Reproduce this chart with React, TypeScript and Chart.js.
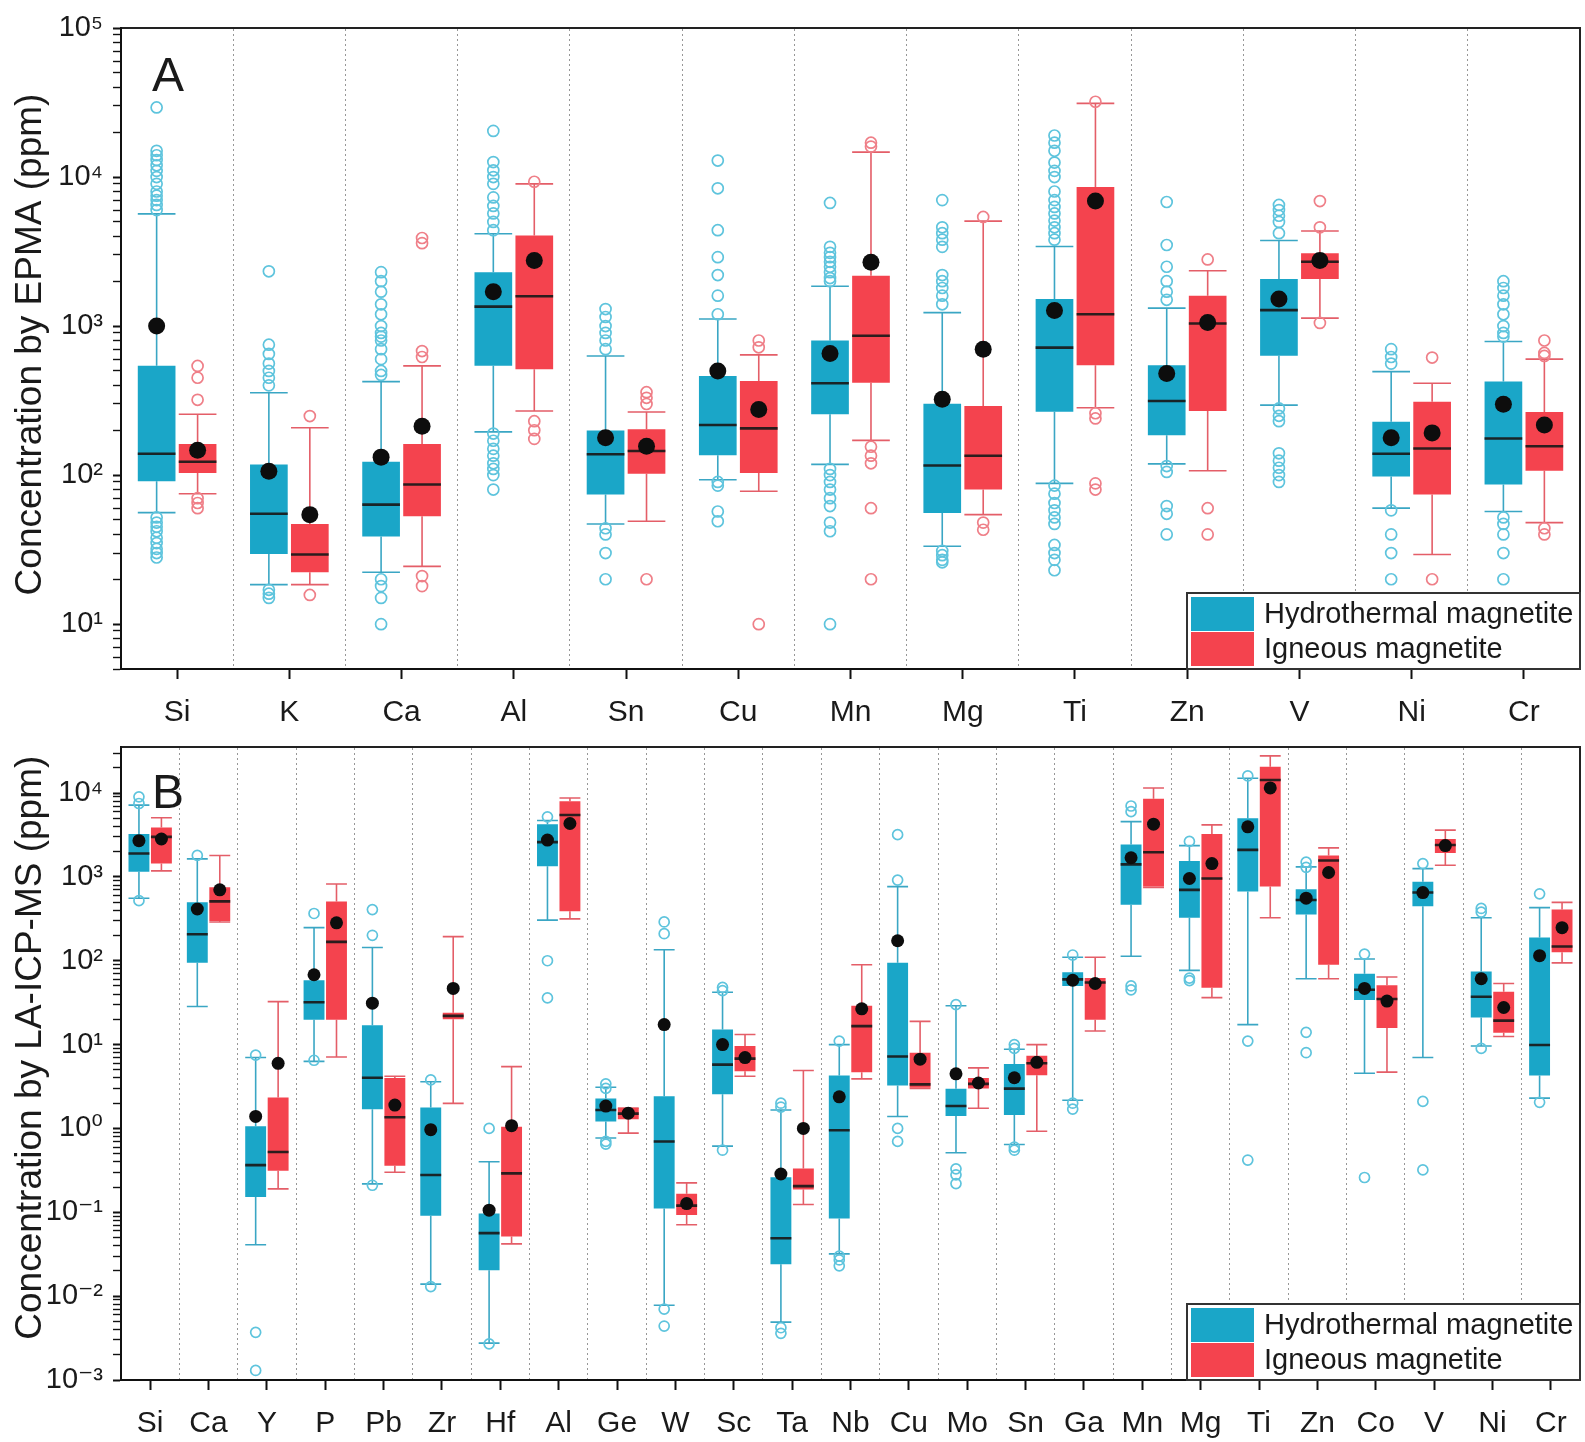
import React, { useEffect, useRef } from "react";
import { Chart, registerables } from "chart.js";

Chart.register(...registerables);

const FONT = "'Liberation Sans', Arial, 'DejaVu Sans', sans-serif";
const TEXT = "#1a1a1a";
const HYD_FILL = "#1aa6c8";
const IGN_FILL = "#f4434e";
const HYD_LINE = "#3aa6c4";
const IGN_LINE = "#e45e68";
const HYD_OUT = "#5ec4dd";
const IGN_OUT = "#ef7f88";

// ---------------- Panel A: EPMA ----------------
const EPMA_ELEMENTS = ["Si", "K", "Ca", "Al", "Sn", "Cu", "Mn", "Mg", "Ti", "Zn", "V", "Ni", "Cr"];
// [lower whisker, Q1, median, Q3, upper whisker]
const EPMA_HYDRO_BOX = [
  [56, 91, 139, 541, 5660],
  [18.4, 29.5, 55, 118, 357],
  [22.3, 38.8, 63.4, 123, 424],
  [195, 541, 1350, 2300, 4160],
  [47, 74, 138, 199, 630],
  [93, 136, 217, 463, 1115],
  [118, 256, 413, 800, 1850],
  [33.3, 55.7, 116, 301, 1230],
  [88, 266, 717, 1520, 3420],
  [119, 185, 314, 546, 1320],
  [295, 631, 1280, 2070, 3750],
  [60, 98, 139, 228, 495],
  [57, 86.5, 176, 424, 787],
];
const EPMA_HYDRO_MEAN = [1000, 106, 132, 1700, 178, 500, 654, 323, 1270, 480, 1520, 178, 299];
const EPMA_HYDRO_OUTLIERS = [
  [29300, 15000, 14000, 13000, 12000, 11000, 10000, 9000, 8000, 7500, 7000, 6500, 6000, 52, 48, 45, 42, 38, 35, 32, 30, 28],
  [2330, 750, 650, 560, 500, 450, 400, 17, 16, 15],
  [2300, 2000, 1700, 1400, 1200, 1000, 900, 850, 800, 700, 600, 500, 470, 20, 18, 15, 10],
  [20400, 12600, 11100, 10000, 9000, 7300, 6400, 5700, 5000, 4400, 190, 170, 150, 135, 120, 110, 100, 80],
  [1300, 1150, 1000, 900, 800, 700, 44, 40, 30, 20],
  [12900, 8400, 4400, 2900, 2200, 1600, 1200, 90, 85, 57, 49],
  [6700, 3400, 3100, 2900, 2700, 2500, 2300, 2100, 2000, 110, 100, 90, 80, 70, 62, 48, 42, 10],
  [7000, 4600, 4200, 3800, 3400, 2200, 2000, 1800, 1600, 1400, 31, 29, 27, 26],
  [19000, 17000, 15000, 12500, 11000, 10000, 8000, 7000, 6300, 5700, 5100, 4600, 4200, 3800, 85, 75, 65, 58, 52, 47, 34, 30, 27, 23],
  [6800, 3500, 2500, 2000, 1700, 1500, 115, 105, 62, 55, 40],
  [6500, 6000, 5500, 5000, 4200, 280, 250, 230, 140, 125, 112, 100, 90],
  [700, 620, 560, 58, 40, 30, 20],
  [2000, 1800, 1600, 1400, 1200, 1000, 900, 850, 52, 47, 40, 30, 20],
];
const EPMA_IGNEOUS_BOX = [
  [75, 103.5, 123, 162, 256],
  [18.4, 22.3, 29.3, 47, 208],
  [24.4, 53, 86.5, 162, 541],
  [269, 513, 1585, 4050, 9000],
  [49, 102, 145, 203, 265],
  [78, 103.5, 206, 428, 641],
  [171, 417, 861, 2180, 14700],
  [54.3, 80, 135, 291, 5060],
  [283, 546, 1200, 8570, 31200],
  [107, 269, 1040, 1600, 2350],
  [1130, 2070, 2700, 3080, 4340],
  [29.3, 74, 151, 311, 413],
  [48, 107, 156, 265, 600],
];
const EPMA_IGNEOUS_MEAN = [147, 54.3, 213, 2750, 156, 276, 2680, 700, 6900, 1056, 2750, 192, 217];
const EPMA_IGNEOUS_OUTLIERS = [
  [540, 450, 320, 70, 65, 60],
  [249, 15.7],
  [3900, 3600, 680, 620, 21, 18],
  [9300, 230, 200, 175],
  [360, 330, 300, 20],
  [800, 720, 10],
  [17000, 16000, 155, 135, 120, 60, 20],
  [5400, 48, 43],
  [32000, 260, 240, 88, 80],
  [2800, 60, 40],
  [6900, 4600, 1050],
  [615, 20],
  [800, 660, 630, 44, 40],
];

// ---------------- Panel B: LA-ICP-MS ----------------
const LA_ELEMENTS = ["Si", "Ca", "Y", "P", "Pb", "Zr", "Hf", "Al", "Ge", "W", "Sc", "Ta", "Nb", "Cu", "Mo", "Sn", "Ga", "Mn", "Mg", "Ti", "Zn", "Co", "V", "Ni", "Cr"];
const LA_HYDRO_BOX = [
  [557, 1150, 1900, 3240, 7170],
  [28.4, 94.4, 207, 497, 1640],
  [0.041, 0.152, 0.365, 1.06, 7.0],
  [6.3, 19.8, 32, 58.5, 248],
  [0.218, 1.69, 4.02, 17, 144],
  [0.0139, 0.091, 0.278, 1.78, 3.6],
  [0.00275, 0.0204, 0.0564, 0.097, 0.4],
  [305, 1340, 2600, 4250, 4700],
  [0.77, 1.21, 1.66, 2.28, 3.1],
  [0.0078, 0.111, 0.698, 2.42, 135],
  [0.615, 2.56, 5.76, 15.1, 42],
  [0.0049, 0.024, 0.049, 0.261, 1.66],
  [0.0319, 0.0845, 0.95, 4.27, 10],
  [1.39, 3.26, 7.2, 94.4, 766],
  [0.514, 1.41, 1.85, 2.98, 29],
  [0.643, 1.45, 2.98, 5.87, 8.8],
  [2.17, 50, 60, 73, 110],
  [113, 466, 1410, 2430, 4560],
  [76.7, 325, 700, 1546, 2360],
  [17.3, 668, 2100, 4990, 15000],
  [61, 356, 530, 711, 1315],
  [4.56, 34, 45, 70, 105],
  [7.0, 445, 650, 875, 1255],
  [9.6, 21.1, 37.2, 74.6, 325],
  [2.3, 4.27, 9.9, 189, 430],
];
const LA_HYDRO_MEAN = [2700, 414, 1.39, 68, 31.2, 0.966, 0.106, 2750, 1.85, 17.3, 10, 0.286, 2.38, 173, 4.48, 4.02, 58.5, 1690, 957, 3950, 557, 46.8, 650, 61, 115];
const LA_HYDRO_OUTLIERS = [
  [9000, 7500, 520],
  [1800],
  [7.5, 0.0037, 0.0013],
  [366, 6.5],
  [407, 201, 0.21],
  [3.8, 0.013],
  [1.0, 0.0027],
  [5200, 100, 36],
  [3.4, 3.0, 0.7, 0.65],
  [290, 210, 0.007, 0.0044],
  [48, 44, 0.55],
  [2.0, 1.8, 0.0042, 0.0036],
  [11, 0.03, 0.027, 0.023],
  [3190, 916, 1.0, 0.7],
  [30, 0.33, 0.28, 0.22],
  [10, 9, 0.6, 0.55],
  [117, 2.0, 1.7],
  [7000, 6000, 50, 45],
  [2650, 62, 58],
  [16000, 11, 0.42],
  [1500, 1300, 14, 8],
  [120, 0.26],
  [1440, 2.1, 0.32],
  [420, 380, 9],
  [628, 2.05],
];
const LA_IGNEOUS_BOX = [
  [1180, 1440, 3000, 3880, 5080],
  [290, 297, 510, 750, 1800],
  [0.19, 0.313, 0.524, 2.34, 32.5],
  [7.1, 19.8, 168, 510, 822],
  [0.3, 0.358, 1.36, 4.0, 4.2],
  [1.99, 20, 22, 24, 194],
  [0.042, 0.0515, 0.291, 1.05, 5.46],
  [316, 389, 5470, 7980, 8730],
  [0.88, 1.29, 1.5, 1.75, 1.75],
  [0.071, 0.093, 0.12, 0.166, 0.224],
  [4.2, 4.8, 6.8, 9.6, 13.2],
  [0.124, 0.187, 0.205, 0.333, 4.9],
  [3.9, 4.69, 16.6, 29, 89.6],
  [3.0, 3.06, 3.35, 8.0, 18.9],
  [1.74, 3.0, 3.4, 4.0, 5.27],
  [0.925, 4.3, 6.0, 7.34, 10],
  [14.5, 19.8, 55, 62.4, 110],
  [750, 766, 1970, 8570, 11500],
  [36.3, 47.5, 957, 3240, 4170],
  [325, 766, 14300, 20600, 27700],
  [61, 89.6, 1570, 1800, 2220],
  [4.69, 15.8, 35, 51, 64],
  [1376, 1920, 2400, 2830, 3610],
  [12.5, 13.8, 19.3, 42.7, 53.5],
  [94.4, 126, 148, 407, 497],
];
const LA_IGNEOUS_MEAN = [2830, 700, 5.97, 283, 1.9, 46.8, 1.08, 4330, 1.52, 0.127, 7.0, 1.0, 26.7, 6.7, 3.48, 6.14, 53.5, 4250, 1440, 11500, 1127, 33, 2360, 27.7, 248];
const LA_IGNEOUS_OUTLIERS: number[][] = LA_ELEMENTS.map(() => []);

const SERIES_LABELS = ["Hydrothermal magnetite", "Igneous magnetite"];

// ---------------- helpers ----------------
const SUP: Record<string, string> = { "0": "⁰", "1": "¹", "2": "²", "3": "³", "4": "⁴", "5": "⁵", "6": "⁶", "7": "⁷", "8": "⁸", "9": "⁹", "-": "⁻" };
function powLabel(e: number): string {
  return "10" + String(e).split("").map((c) => SUP[c] || c).join("");
}
function logTicks(min: number, max: number): number[] {
  const out: number[] = [];
  for (let e = Math.floor(Math.log10(min)); e <= Math.ceil(Math.log10(max)); e++) {
    for (let m = 1; m <= 9; m++) {
      const v = parseFloat((m * Math.pow(10, e)).toPrecision(3));
      if (v >= min * 0.999 && v <= max * 1.001) out.push(v);
    }
  }
  return out;
}
function isPow10(v: number): boolean {
  const e = Math.round(Math.log10(v));
  return Math.abs(v - Math.pow(10, e)) < 1e-9 * Math.max(v, 1e-12);
}

interface PanelSpec {
  letter: string;
  labels: string[];
  hydBox: number[][];
  hydMean: number[];
  hydOut: number[][];
  ignBox: number[][];
  ignMean: number[];
  ignOut: number[][];
  yMin: number;
  yMax: number;
  yTitle: string;
  titleDy: number;
  top: number;
  height: number;
  padTop: number;
  xAxisHeight: number;
  catPct: number;
  barPct: number;
  meanR: number;
  outR: number;
  letterDy: number;
}

function boxPlotPlugin(spec: PanelSpec) {
  const series = [
    { box: spec.hydBox, mean: spec.hydMean, out: spec.hydOut, line: HYD_LINE, outCol: HYD_OUT },
    { box: spec.ignBox, mean: spec.ignMean, out: spec.ignOut, line: IGN_LINE, outCol: IGN_OUT },
  ];
  return {
    id: "boxplot",
    beforeDatasetsDraw(chart: any) {
      const { ctx, chartArea: a } = chart;
      const y = chart.scales.y;
      ctx.save();
      ctx.beginPath();
      ctx.rect(a.left, a.top, a.right - a.left, a.bottom - a.top);
      ctx.clip();
      series.forEach((s, d) => {
        const meta = chart.getDatasetMeta(d);
        s.box.forEach((b, i) => {
          const el = meta.data[i];
          if (!el) return;
          const x = el.x;
          const half = el.width / 2;
          ctx.strokeStyle = s.line;
          ctx.lineWidth = 1.6;
          ctx.beginPath();
          const yLo = y.getPixelForValue(b[0]);
          const yQ1 = y.getPixelForValue(b[1]);
          const yQ3 = y.getPixelForValue(b[3]);
          const yHi = y.getPixelForValue(b[4]);
          ctx.moveTo(x, yQ3);
          ctx.lineTo(x, yHi);
          ctx.moveTo(x, yQ1);
          ctx.lineTo(x, yLo);
          ctx.moveTo(x - half, yHi);
          ctx.lineTo(x + half, yHi);
          ctx.moveTo(x - half, yLo);
          ctx.lineTo(x + half, yLo);
          ctx.stroke();
        });
      });
      ctx.restore();
    },
    afterDatasetsDraw(chart: any) {
      const { ctx, chartArea: a } = chart;
      const y = chart.scales.y;
      ctx.save();
      ctx.beginPath();
      ctx.rect(a.left, a.top, a.right - a.left, a.bottom - a.top);
      ctx.clip();
      series.forEach((s, d) => {
        const meta = chart.getDatasetMeta(d);
        s.box.forEach((b, i) => {
          const el = meta.data[i];
          if (!el) return;
          const x = el.x;
          const half = el.width / 2;
          ctx.strokeStyle = "rgba(25,25,25,0.92)";
          ctx.lineWidth = 2.6;
          const ym = y.getPixelForValue(b[2]);
          ctx.beginPath();
          ctx.moveTo(x - half, ym);
          ctx.lineTo(x + half, ym);
          ctx.stroke();
          ctx.strokeStyle = s.outCol;
          ctx.lineWidth = 1.7;
          (s.out[i] || []).forEach((v) => {
            ctx.beginPath();
            ctx.arc(x, y.getPixelForValue(v), spec.outR, 0, Math.PI * 2);
            ctx.stroke();
          });
        });
        s.mean.forEach((m, i) => {
          const el = meta.data[i];
          if (!el) return;
          ctx.fillStyle = "#0d0d0d";
          ctx.beginPath();
          ctx.arc(el.x, y.getPixelForValue(m), spec.meanR, 0, Math.PI * 2);
          ctx.fill();
        });
      });
      ctx.restore();
    },
  };
}

function decorPlugin(spec: PanelSpec) {
  return {
    id: "decor",
    afterDraw(chart: any) {
      const { ctx, chartArea: a } = chart;
      ctx.save();
      // y-axis title
      ctx.fillStyle = TEXT;
      ctx.font = `37px ${FONT}`;
      ctx.textAlign = "center";
      ctx.textBaseline = "middle";
      ctx.translate(31, (a.top + a.bottom) / 2 + spec.titleDy);
      ctx.rotate(-Math.PI / 2);
      ctx.fillText(spec.yTitle, 0, 0);
      ctx.setTransform(1, 0, 0, 1, 0, 0);
      // panel letter
      ctx.font = `48px ${FONT}`;
      ctx.textBaseline = "alphabetic";
      ctx.textAlign = "left";
      ctx.fillText(spec.letter, a.left + 31, a.top + spec.letterDy);
      // legend
      const L = a.right - 393;
      const T = a.bottom - 76;
      ctx.fillStyle = "#ffffff";
      ctx.fillRect(L, T, a.right - L, a.bottom - T);
      chart.data.datasets.forEach((ds: any, i: number) => {
        const sy = T + 4 + i * 35;
        ctx.fillStyle = ds.backgroundColor;
        ctx.fillRect(L + 4, sy, 63, 34);
        ctx.fillStyle = TEXT;
        ctx.font = `29px ${FONT}`;
        ctx.textBaseline = "middle";
        ctx.fillText(ds.label, L + 77, sy + 18);
      });
      ctx.strokeStyle = "#333";
      ctx.lineWidth = 2;
      ctx.strokeRect(L, T, a.right - L, a.bottom - T);
      ctx.restore();
    },
  };
}

function makeConfig(spec: PanelSpec): any {
  const ticks = logTicks(spec.yMin, spec.yMax);
  return {
    type: "bar",
    data: {
      labels: spec.labels,
      datasets: [
        {
          label: SERIES_LABELS[0],
          data: spec.hydBox.map((b) => [b[1], b[3]]),
          backgroundColor: HYD_FILL,
          borderWidth: 0,
          borderSkipped: false,
          categoryPercentage: spec.catPct,
          barPercentage: spec.barPct,
        },
        {
          label: SERIES_LABELS[1],
          data: spec.ignBox.map((b) => [b[1], b[3]]),
          backgroundColor: IGN_FILL,
          borderWidth: 0,
          borderSkipped: false,
          categoryPercentage: spec.catPct,
          barPercentage: spec.barPct,
        },
      ],
    },
    options: {
      animation: false,
      responsive: false,
      maintainAspectRatio: false,
      devicePixelRatio: 1,
      layout: { padding: { top: spec.padTop, right: 5, left: 0, bottom: 0 } },
      plugins: { legend: { display: false }, tooltip: { enabled: false } },
      scales: {
        x: {
          type: "category",
          position: "bottom",
          offset: true,
          grid: { offset: false, drawOnChartArea: false, drawTicks: true, tickLength: 10, tickWidth: 2, tickColor: "#111" },
          border: { display: true, color: "#111", width: 2 },
          ticks: { font: { family: FONT, size: 30 }, color: TEXT, padding: 16, autoSkip: false, maxRotation: 0 },
          afterFit: (s: any) => { s.height = spec.xAxisHeight; },
        },
        x2: {
          type: "category",
          position: "top",
          offset: true,
          grid: { offset: true, drawOnChartArea: true, drawTicks: false, color: "rgba(125,125,125,0.8)", lineWidth: 1 },
          border: { display: true, color: "#222", width: 2, dash: [2, 3] },
          ticks: { display: false },
          afterFit: (s: any) => { s.height = 0; },
        },
        y: {
          type: "logarithmic",
          position: "left",
          min: spec.yMin,
          max: spec.yMax,
          grid: {
            drawOnChartArea: false,
            drawTicks: true,
            tickLength: 8,
            tickColor: "#111",
            tickWidth: (c: any) => (c.tick && isPow10(c.tick.value) ? 2 : 1.4),
          },
          border: { display: true, color: "#111", width: 2 },
          ticks: {
            autoSkip: false,
            font: { family: FONT, size: 29 },
            color: TEXT,
            padding: 10,
            callback: (v: any) => (isPow10(Number(v)) ? powLabel(Math.round(Math.log10(Number(v)))) : ""),
          },
          afterBuildTicks: (s: any) => { s.ticks = ticks.map((v) => ({ value: v, major: isPow10(v) })); },
          afterFit: (s: any) => { s.width = 121; },
        },
        y2: {
          type: "logarithmic",
          position: "right",
          min: spec.yMin,
          max: spec.yMax,
          grid: { display: false },
          border: { display: true, color: "#222", width: 2 },
          ticks: { display: false },
          afterFit: (s: any) => { s.width = 0; },
        },
      },
    },
    plugins: [boxPlotPlugin(spec), decorPlugin(spec)],
  };
}

const PANEL_A: PanelSpec = {
  letter: "A",
  labels: EPMA_ELEMENTS,
  hydBox: EPMA_HYDRO_BOX,
  hydMean: EPMA_HYDRO_MEAN,
  hydOut: EPMA_HYDRO_OUTLIERS,
  ignBox: EPMA_IGNEOUS_BOX,
  ignMean: EPMA_IGNEOUS_MEAN,
  ignOut: EPMA_IGNEOUS_OUTLIERS,
  yMin: 5,
  yMax: 100000,
  yTitle: "Concentration by EPMA (ppm)",
  titleDy: -4,
  top: 0,
  height: 740,
  padTop: 28,
  xAxisHeight: 71,
  catPct: 0.73,
  barPct: 0.92,
  meanR: 8.5,
  outR: 5.5,
  letterDy: 63,
};

const PANEL_B: PanelSpec = {
  letter: "B",
  labels: LA_ELEMENTS,
  hydBox: LA_HYDRO_BOX,
  hydMean: LA_HYDRO_MEAN,
  hydOut: LA_HYDRO_OUTLIERS,
  ignBox: LA_IGNEOUS_BOX,
  ignMean: LA_IGNEOUS_MEAN,
  ignOut: LA_IGNEOUS_OUTLIERS,
  yMin: 0.001,
  yMax: 35000,
  yTitle: "Concentration by LA-ICP-MS (ppm)",
  titleDy: -16,
  top: 720,
  height: 722,
  padTop: 18,
  xAxisHeight: 62,
  catPct: 0.77,
  barPct: 0.93,
  meanR: 6.5,
  outR: 5,
  letterDy: 61,
};

function Panel({ spec }: { spec: PanelSpec }) {
  const ref = useRef<HTMLCanvasElement>(null);
  useEffect(() => {
    if (!ref.current) return;
    const chart = new Chart(ref.current, makeConfig(spec));
    return () => chart.destroy();
  }, [spec]);
  return (
    <div style={{ position: "absolute", left: 0, top: spec.top, width: 1585, height: spec.height }}>
      <canvas ref={ref} width={1585} height={spec.height} style={{ display: "block", width: 1585, height: spec.height }} />
    </div>
  );
}

export default function App() {
  return (
    <div style={{ position: "absolute", left: 0, top: 0, width: 1585, height: 1442, background: "#fff" }}>
      <Panel spec={PANEL_A} />
      <Panel spec={PANEL_B} />
    </div>
  );
}
